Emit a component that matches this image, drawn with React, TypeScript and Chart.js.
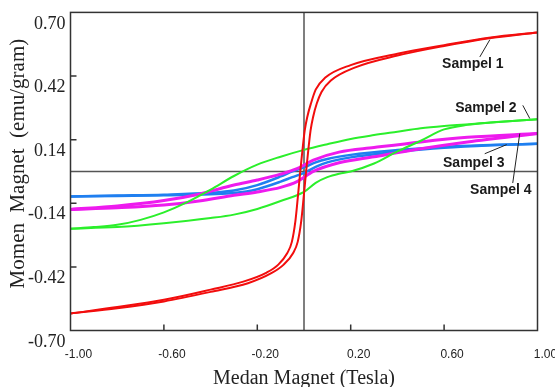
import React, { useEffect, useRef } from "react";
import { Chart, registerables } from "chart.js";

Chart.register(...registerables);

// Axis ticks
const xTicks = [-1.0, -0.6, -0.2, 0.2, 0.6, 1.0];
const yTicks = [-0.7, -0.42, -0.14, 0.14, 0.42, 0.7];

// Sampel 1 (red)
const s1UpX = [-1.0, -0.8, -0.6, -0.4, -0.26, -0.16, -0.11, -0.072, -0.052, -0.037, -0.027, -0.016, -0.006, 0.003, 0.014, 0.03, 0.05, 0.09, 0.2, 0.4, 0.6, 0.8, 1.0];
const s1UpY = [-0.625, -0.597, -0.565, -0.52, -0.485, -0.445, -0.41, -0.36, -0.31, -0.22, -0.12, 0.0, 0.1, 0.18, 0.24, 0.3, 0.36, 0.412, 0.468, 0.518, 0.556, 0.59, 0.612];
const s1LowX = [-1.0, -0.8, -0.6, -0.4, -0.24, -0.14, -0.087, -0.047, -0.027, -0.012, -0.002, 0.009, 0.019, 0.028, 0.039, 0.055, 0.075, 0.115, 0.22, 0.4, 0.6, 0.8, 1.0];
const s1LowY = [-0.625, -0.602, -0.572, -0.53, -0.492, -0.448, -0.41, -0.36, -0.31, -0.22, -0.12, 0.0, 0.1, 0.18, 0.24, 0.3, 0.35, 0.4, 0.458, 0.51, 0.552, 0.587, 0.612];

// Sampel 2 (green)
const s2UpX = [-1.0, -0.9, -0.8, -0.7, -0.6, -0.5, -0.4, -0.3, -0.2, -0.1, 0.0, 0.1, 0.2, 0.3, 0.4, 0.5, 0.6, 0.8, 1.0];
const s2UpY = [-0.252, -0.245, -0.235, -0.213, -0.18, -0.135, -0.08, -0.02, 0.03, 0.065, 0.095, 0.12, 0.143, 0.16, 0.175, 0.19, 0.2, 0.215, 0.23];
const s2LowX = [-1.0, -0.8, -0.6, -0.4, -0.3, -0.2, -0.1, 0.0, 0.05, 0.1, 0.15, 0.2, 0.3, 0.4, 0.5, 0.6, 0.7, 0.8, 1.0];
const s2LowY = [-0.252, -0.245, -0.228, -0.205, -0.19, -0.165, -0.13, -0.09, -0.05, -0.025, -0.01, 0.0, 0.035, 0.088, 0.135, 0.185, 0.205, 0.215, 0.23];

// Sampel 3 (blue)
const s3X = [-1.0, -0.8, -0.6, -0.4, -0.3, -0.2, -0.1, -0.05, 0.0, 0.05, 0.1, 0.2, 0.4, 0.6, 0.8, 1.0];
const s3UpY = [-0.11, -0.106, -0.102, -0.094, -0.084, -0.06, -0.022, 0.0, 0.018, 0.04, 0.055, 0.073, 0.094, 0.108, 0.116, 0.122];
const s3LowY = [-0.11, -0.108, -0.105, -0.1, -0.095, -0.078, -0.045, -0.025, -0.006, 0.02, 0.04, 0.062, 0.086, 0.104, 0.115, 0.122];

// Sampel 4 (magenta)
const s4X = [-1.0, -0.8, -0.6, -0.45, -0.3, -0.2, -0.1, -0.03, 0.04, 0.15, 0.3, 0.5, 0.7, 1.0];
const s4UpY = [-0.167, -0.152, -0.128, -0.1, -0.06, -0.038, -0.012, 0.012, 0.05, 0.085, 0.105, 0.13, 0.15, 0.167];
const s4LowY = [-0.167, -0.16, -0.148, -0.13, -0.105, -0.09, -0.07, -0.045, 0.0, 0.038, 0.065, 0.1, 0.13, 0.167];

// Annotations (data units)
const annText = ["Sampel 1", "Sampel 2", "Sampel 3", "Sampel 4"];
const annX = [0.723, 0.779, 0.727, 0.843];
const annY = [0.473, 0.278, 0.038, -0.082];
const leadFromX = [0.753, 0.937, 0.774, 0.894];
const leadFromY = [0.504, 0.291, 0.078, -0.051];
const leadToX = [0.796, 0.967, 0.868, 0.924];
const leadToY = [0.58, 0.233, 0.118, 0.167];

const RED = "#f20d0d";
const GREEN = "#2bef2b";
const BLUE = "#1f7ff0";
const MAGENTA = "#ee1bee";

const pts = (xs: number[], ys: number[]) => xs.map((x, i) => ({ x, y: ys[i] }));

const overlay = {
  id: "overlay",
  beforeDatasetsDraw(chart: any) {
    const { ctx, chartArea: a, scales } = chart;
    const x0 = scales.x.getPixelForValue(0);
    const y0 = scales.y.getPixelForValue(0);
    ctx.save();
    ctx.strokeStyle = "#555";
    ctx.lineWidth = 1.5;
    ctx.beginPath();
    ctx.moveTo(x0, a.top);
    ctx.lineTo(x0, a.bottom);
    ctx.moveTo(a.left, y0);
    ctx.lineTo(a.right, y0);
    ctx.stroke();
    ctx.restore();
  },
  afterDatasetsDraw(chart: any) {
    const { ctx, chartArea: a, scales } = chart;
    const sx = scales.x;
    const sy = scales.y;
    ctx.save();
    ctx.strokeStyle = "#333";
    ctx.lineWidth = 1.5;
    ctx.strokeRect(a.left, a.top, a.right - a.left, a.bottom - a.top);
    ctx.beginPath();
    yTicks.slice(1, -1).forEach((v) => {
      const p = sy.getPixelForValue(v);
      ctx.moveTo(a.left, p);
      ctx.lineTo(a.left + 6, p);
    });
    xTicks.slice(1, -1).forEach((v) => {
      const p = sx.getPixelForValue(v);
      ctx.moveTo(p, a.bottom);
      ctx.lineTo(p, a.bottom - 6);
    });
    ctx.stroke();

    ctx.strokeStyle = "#222";
    ctx.lineWidth = 1;
    ctx.beginPath();
    annText.forEach((_, i) => {
      ctx.moveTo(sx.getPixelForValue(leadFromX[i]), sy.getPixelForValue(leadFromY[i]));
      ctx.lineTo(sx.getPixelForValue(leadToX[i]), sy.getPixelForValue(leadToY[i]));
    });
    ctx.stroke();

    ctx.fillStyle = "#1a1a1a";
    ctx.font = "bold 14px 'Liberation Sans', Arial, sans-serif";
    ctx.textAlign = "center";
    ctx.textBaseline = "middle";
    annText.forEach((t, i) => {
      ctx.fillText(t, sx.getPixelForValue(annX[i]), sy.getPixelForValue(annY[i]));
    });
    ctx.restore();
  },
};

export default function App() {
  const ref = useRef<HTMLCanvasElement>(null);
  useEffect(() => {
    document.body.style.margin = "0";
    const line = (data: any[], color: string, width: number, order: number) => ({
      data,
      borderColor: color,
      backgroundColor: color,
      borderWidth: width,
      showLine: true,
      pointRadius: 0,
      cubicInterpolationMode: "monotone",
      fill: false,
      order,
    });
    const chart = new Chart(ref.current as HTMLCanvasElement, {
      type: "scatter",
      data: {
        datasets: [
          line(pts(s3X, s3UpY), BLUE, 2.5, 4),
          line(pts(s3X, s3LowY), BLUE, 2.5, 4),
          line(pts(s4X, s4UpY), MAGENTA, 3, 3),
          line(pts(s4X, s4LowY), MAGENTA, 3, 3),
          line(pts(s2UpX, s2UpY), GREEN, 2, 2),
          line(pts(s2LowX, s2LowY), GREEN, 2, 2),
          line(pts(s1UpX, s1UpY), RED, 2, 1),
          line(pts(s1LowX, s1LowY), RED, 2, 1),
        ] as any,
      },
      options: {
        animation: false,
        responsive: false,
        devicePixelRatio: 1,
        events: [],
        layout: { padding: { left: 0, right: 17.5, top: 12.4, bottom: 0 } },
        plugins: { legend: { display: false }, tooltip: { enabled: false } },
        scales: {
          x: {
            type: "linear",
            min: -1,
            max: 1,
            grid: { display: false, drawTicks: false },
            border: { display: false },
            afterFit: (s: any) => {
              s.height = 56.5;
              s.paddingLeft = 0;
              s.paddingRight = 0;
            },
            afterBuildTicks: (s: any) => {
              s.ticks = xTicks.map((v) => ({ value: v }));
            },
            ticks: {
              padding: 17,
              labelOffset: 8,
              color: "#222",
              font: { family: "'Liberation Sans', Arial, sans-serif", size: 12 },
              callback: (v: any) => Number(v).toFixed(2),
            },
            title: {
              display: true,
              text: "Medan Magnet (Tesla)",
              color: "#222",
              font: { family: "'Liberation Serif', 'Times New Roman', serif", size: 20, lineHeight: 0.8 },
              padding: 0,
            },
          },
          y: {
            type: "linear",
            min: -0.7,
            max: 0.7,
            grid: { display: false, drawTicks: false },
            border: { display: false },
            afterFit: (s: any) => {
              s.width = 70.5;
              s.paddingTop = 0;
              s.paddingBottom = 0;
            },
            afterBuildTicks: (s: any) => {
              s.ticks = yTicks.map((v) => ({ value: v }));
            },
            ticks: {
              padding: 5,
              labelOffset: 11.5,
              color: "#222",
              font: { family: "'Liberation Serif', 'Times New Roman', serif", size: 18 },
              callback: (v: any) => Number(v).toFixed(2),
            },
            title: {
              display: true,
              text: "   Momen  Magnet  (emu/gram)",
              color: "#222",
              font: { family: "'Liberation Serif', 'Times New Roman', serif", size: 21 },
              padding: { top: 6, bottom: 0 },
            },
          },
        },
      } as any,
      plugins: [overlay],
    });
    return () => chart.destroy();
  }, []);
  return (
    <div style={{ position: "absolute", left: 0, top: 0, width: 555, height: 387, background: "#fff" }}>
      <canvas ref={ref} width={555} height={387} />
    </div>
  );
}
